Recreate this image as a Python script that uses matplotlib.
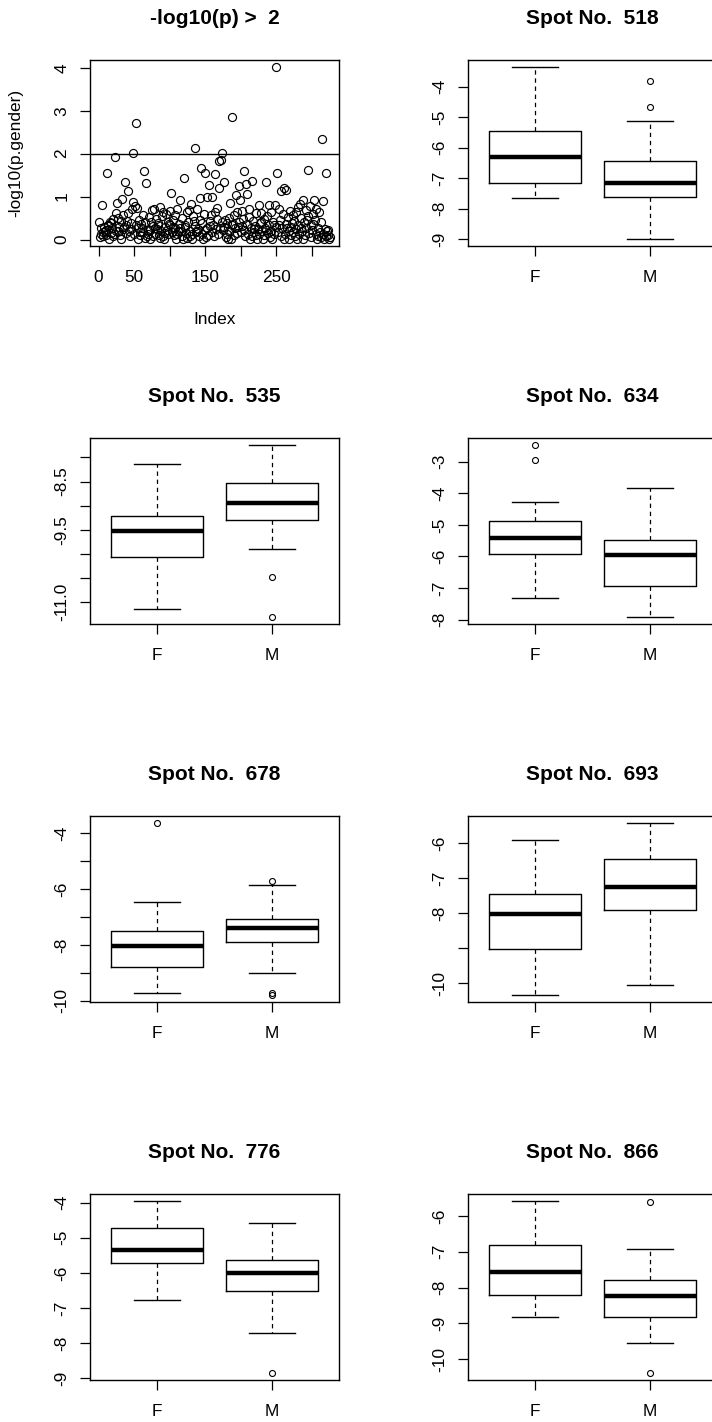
import numpy as np
import matplotlib.pyplot as plt

plt.rcParams['font.family'] = ['Liberation Sans', 'DejaVu Sans']

# -log10(p) of the gender test for every spot, in spot order
p_gender = [
    0.40, 0.05, 0.12, 0.26, 0.81, 0.18, 0.08, 0.30, 0.19, 0.22,
    0.10, 1.56, 0.35, 0.31, 0.01, 0.42, 0.15, 0.38, 0.27, 0.09,
    0.48, 0.13, 1.93, 0.20, 0.62, 0.84, 0.21, 0.50, 0.30, 0.11,
    0.43, 0.02, 0.95, 0.25, 0.58, 0.29, 1.34, 0.33, 0.16, 0.44,
    0.61, 1.14, 0.21, 0.09, 0.38, 0.24, 0.70, 2.02, 0.88, 0.14,
    0.77, 0.33, 2.71, 0.73, 0.27, 0.01, 0.45, 0.10, 0.18, 0.36,
    0.28, 0.58, 0.18, 1.59, 0.03, 0.40, 1.32, 0.08, 0.23, 0.12,
    0.52, 0.02, 0.22, 0.41, 0.69, 0.31, 0.09, 0.70, 0.14, 0.26,
    0.47, 0.25, 0.34, 0.38, 0.11, 0.76, 0.03, 0.20, 0.55, 0.08,
    0.64, 0.01, 0.29, 0.16, 0.60, 0.22, 0.42, 0.12, 0.37, 0.33,
    0.66, 1.09, 0.18, 0.30, 0.45, 0.10, 0.26, 0.58, 0.02, 0.14,
    0.72, 0.19, 0.36, 0.27, 0.93, 0.21, 0.50, 0.09, 0.01, 1.43,
    0.30, 0.35, 0.15, 0.63, 0.03, 0.40, 0.68, 0.08, 0.20, 0.82,
    0.02, 0.12, 0.55, 0.43, 2.13, 0.32, 0.17, 0.72, 0.20, 0.25,
    0.09, 0.46, 0.96, 1.67, 0.14, 0.38, 0.01, 0.60, 0.22, 1.55,
    0.06, 0.99, 0.28, 0.11, 1.26, 0.43, 0.31, 0.56, 0.17, 0.98,
    0.35, 0.08, 0.64, 1.53, 0.24, 0.48, 0.74, 0.13, 1.21, 1.84,
    0.26, 1.85, 2.02, 0.41, 0.22, 1.35, 0.30, 0.45, 0.05, 0.38,
    0.12, 0.02, 0.50, 0.21, 0.86, 0.01, 0.33, 2.85, 0.36, 0.10,
    0.57, 0.27, 1.04, 0.15, 0.63, 0.29, 1.24, 0.40, 0.93, 0.18,
    0.66, 0.32, 0.47, 1.60, 0.22, 0.09, 1.29, 0.36, 1.06, 0.12,
    0.52, 0.72, 0.02, 0.28, 1.36, 0.08, 0.44, 0.17, 0.25, 0.31,
    0.61, 0.11, 0.01, 0.25, 0.80, 0.14, 0.38, 0.42, 0.62, 0.20,
    0.02, 0.48, 0.10, 0.27, 1.35, 0.23, 0.55, 0.16, 0.80, 0.33,
    0.07, 0.21, 0.65, 0.01, 0.42, 0.12, 0.34, 0.80, 0.29, 4.02,
    1.54, 0.18, 0.72, 0.35, 0.46, 0.09, 1.13, 0.26, 0.60, 0.02,
    1.19, 0.14, 1.16, 0.37, 0.28, 0.52, 0.21, 0.01, 0.66, 0.11,
    0.30, 0.39, 0.58, 0.17, 0.44, 0.08, 0.63, 0.24, 0.02, 0.75,
    0.35, 0.13, 0.82, 0.27, 0.50, 0.19, 0.93, 0.01, 0.40, 0.10,
    0.68, 0.27, 0.45, 0.55, 1.63, 0.15, 0.78, 0.07, 0.34, 0.22,
    0.60, 0.36, 0.93, 0.45, 0.12, 0.70, 0.02, 0.28, 0.08, 0.65,
    0.18, 0.40, 0.05, 2.33, 0.90, 0.14, 0.01, 0.25, 0.09, 1.55,
    0.20, 0.22, 0.11, 0.02, 0.06,
]
threshold = 2

groups = ["F", "M"]
# boxplot summaries per spot: [lower whisker, Q1, median, Q3, upper whisker]
spot_518_F = [-7.64, -7.15, -6.30, -5.44, -3.35]
spot_518_M = [-9.00, -7.62, -7.16, -6.45, -5.14]
out_518_F, out_518_M = [], [-4.66, -3.81]

spot_535_F = [-11.14, -10.07, -9.53, -9.22, -8.13]
spot_535_M = [-9.89, -9.30, -8.94, -8.53, -7.74]
out_535_F, out_535_M = [], [-10.48, -11.31]

spot_634_F = [-7.31, -5.92, -5.41, -4.89, -4.27]
spot_634_M = [-7.92, -6.95, -5.96, -5.49, -3.85]
out_634_F, out_634_M = [-2.95, -2.47], []

spot_678_F = [-9.73, -8.79, -8.02, -7.51, -6.47]
spot_678_M = [-8.99, -7.90, -7.39, -7.07, -5.84]
out_678_F, out_678_M = [-3.62], [-5.70, -9.74, -9.80]

spot_693_F = [-10.34, -9.02, -8.03, -7.44, -5.90]
spot_693_M = [-10.04, -7.91, -7.24, -6.44, -5.41]
out_693_F, out_693_M = [], []

spot_776_F = [-6.78, -5.71, -5.34, -4.71, -3.95]
spot_776_M = [-7.72, -6.52, -6.00, -5.63, -4.58]
out_776_F, out_776_M = [], [-8.85]

spot_866_F = [-8.83, -8.20, -7.57, -6.82, -5.58]
spot_866_M = [-9.54, -8.83, -8.23, -7.80, -6.92]
out_866_F, out_866_M = [], [-5.60, -10.39]

W, H = 712, 1422
fig = plt.figure(figsize=(W / 100, H / 100), dpi=100)
FS_TICK, FS_TITLE = 12.4, 15


def new_axes(col, row):
    left = 90 if col == 0 else 468
    top = 60 + 378 * row
    return fig.add_axes([left / W, 1 - (top + 186) / H, 249 / W, 186 / H])


def frame(ax, title):
    for s in ax.spines.values():
        s.set_linewidth(1.0)
        s.set_color("black")
    ax.tick_params(direction="out", length=7.2, width=0.9,
                   labelsize=FS_TICK, colors="black")
    ax.tick_params(axis="x", pad=10.0)
    ax.tick_params(axis="y", pad=7.5, labelrotation=90)
    for lbl in ax.get_yticklabels():
        lbl.set_va("center")
    ax.text(0.5, 1 + 42 / 186, title, transform=ax.transAxes,
            ha="center", va="center", fontsize=FS_TITLE, fontweight="bold")


def r_lim(lo, hi):
    pad = 0.04 * (hi - lo)
    return lo - pad, hi + pad


# --- scatter of -log10(p) ---
ax = new_axes(0, 0)
idx = np.arange(1, len(p_gender) + 1)
ax.plot(idx, p_gender, "o", mfc="none", mec="black", ms=5.8, mew=0.85)
ax.axhline(threshold, color="black", lw=1.0)
ax.set_xlim(*r_lim(1, len(p_gender)))
ax.set_ylim(*r_lim(min(p_gender), max(p_gender)))
ax.set_xticks(np.arange(0, 301, 50))
ax.set_xticklabels(["0", "50", "", "150", "", "250", ""])
ax.set_yticks([0, 1, 2, 3, 4])
ax.set_yticklabels(["0", "1", "2", "3", "4"])
frame(ax, "-log10(p) >  2")
ax.text((16 - 90) / 249, 0.5, "-log10(p.gender)", transform=ax.transAxes,
        rotation=90, ha="center", va="center", fontsize=FS_TICK)
ax.text(0.5, -(320 - 246) / 186, "Index", transform=ax.transAxes,
        ha="center", va="center", fontsize=FS_TICK)

panels = [
    ("518", spot_518_F, spot_518_M, out_518_F, out_518_M, (1, 0),
     [-4, -5, -6, -7, -8, -9], ["-4", "-5", "-6", "-7", "-8", "-9"]),
    ("535", spot_535_F, spot_535_M, out_535_F, out_535_M, (0, 1),
     [-8.0, -8.5, -9.0, -9.5, -10.0, -10.5, -11.0],
     ["", "-8.5", "", "-9.5", "", "", "-11.0"]),
    ("634", spot_634_F, spot_634_M, out_634_F, out_634_M, (1, 1),
     [-3, -4, -5, -6, -7, -8], ["-3", "-4", "-5", "-6", "-7", "-8"]),
    ("678", spot_678_F, spot_678_M, out_678_F, out_678_M, (0, 2),
     [-4, -5, -6, -7, -8, -9, -10], ["-4", "", "-6", "", "-8", "", "-10"]),
    ("693", spot_693_F, spot_693_M, out_693_F, out_693_M, (1, 2),
     [-6, -7, -8, -9, -10], ["-6", "-7", "-8", "", "-10"]),
    ("776", spot_776_F, spot_776_M, out_776_F, out_776_M, (0, 3),
     [-4, -5, -6, -7, -8, -9], ["-4", "-5", "-6", "-7", "-8", "-9"]),
    ("866", spot_866_F, spot_866_M, out_866_F, out_866_M, (1, 3),
     [-6, -7, -8, -9, -10], ["-6", "-7", "-8", "-9", "-10"]),
]

for spot, sf, sm, of, om, (col, row), yt, ytl in panels:
    ax = new_axes(col, row)
    stats = []
    for name, s, o in ((groups[0], sf, of), (groups[1], sm, om)):
        stats.append(dict(label=name, whislo=s[0], q1=s[1], med=s[2],
                          q3=s[3], whishi=s[4], fliers=o))
    ax.bxp(stats, positions=[1, 2], widths=0.8, capwidths=0.4,
           boxprops=dict(color="black", lw=1.0),
           medianprops=dict(color="black", lw=3.2, solid_capstyle="butt"),
           whiskerprops=dict(color="black", lw=0.9, linestyle=(0, (3.5, 3))),
           capprops=dict(color="black", lw=1.0),
           flierprops=dict(marker="o", mfc="none", mec="black",
                           ms=4.3, mew=0.8))
    vals = sf + sm + of + om
    ax.set_xlim(0.42, 2.58)
    ax.set_ylim(*r_lim(min(vals), max(vals)))
    ax.set_xticks([1, 2])
    ax.set_xticklabels(groups)
    ax.set_yticks(yt)
    ax.set_yticklabels(ytl)
    frame(ax, f"Spot No.  {spot}")

fig.savefig("out.png", dpi=100, facecolor="white")
